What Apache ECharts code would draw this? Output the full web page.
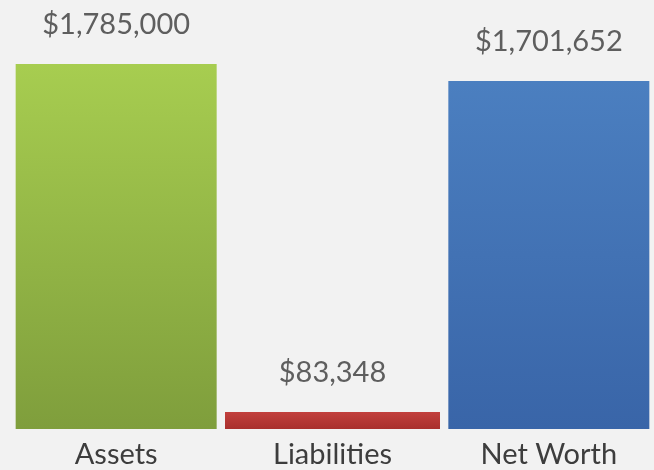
<!DOCTYPE html>
<html>
<head>
<meta charset="utf-8">
<script src="https://cdn.jsdelivr.net/npm/echarts@6/dist/echarts.min.js"></script>
<style>
html,body{margin:0;padding:0;background:#f2f2f2;}
#chart{width:654px;height:470px;}
</style>
</head>
<body>
<div id="chart"></div>
<script>
var categories = ['Assets', 'Liabilities', 'Net Worth'];
var values = [1785000, 83348, 1701652];
var topColors = ['#a7cd50', '#c2403d', '#4b7fc0'];
var bottomColors = ['#7f9e3c', '#a9302d', '#3965a8'];

function fmt(v) {
  return '$' + v.toString().replace(/\B(?=(\d{3})+(?!\d))/g, ',');
}

function item(i) {
  return {
    value: values[i],
    itemStyle: {
      color: {
        type: 'linear', x: 0, y: 0, x2: 0, y2: 1,
        colorStops: [
          { offset: 0, color: topColors[i] },
          { offset: 1, color: bottomColors[i] }
        ]
      }
    }
  };
}

var wideData = categories.map(function (c, i) { return i === 1 ? '-' : item(i); });
var narrowData = categories.map(function (c, i) { return i === 1 ? item(i) : '-'; });

var labelCfg = {
  show: true,
  position: 'top',
  distance: 25,
  fontFamily: 'Lato',
  fontSize: 29,
  lineHeight: 29,
  color: '#5e5e5e',
  formatter: function (p) { return fmt(p.value); }
};

var chart = echarts.init(document.getElementById('chart'));
chart.setOption({
  backgroundColor: '#f2f2f2',
  animation: false,
  grid: { left: 8, width: 649, top: 64, bottom: 41, outerBoundsMode: 'none', containLabel: false },
  xAxis: [
    {
      type: 'category',
      data: categories,
      axisLine: { show: false },
      axisTick: { show: false },
      axisLabel: { fontFamily: 'Lato', fontSize: 29, lineHeight: 29, color: '#3d3d3d', margin: 11 }
    },
    {
      type: 'category',
      data: categories,
      show: false
    }
  ],
  yAxis: { type: 'value', min: 0, max: 1785000, show: false },
  series: [
    {
      type: 'bar',
      xAxisIndex: 0,
      barWidth: 201,
      data: wideData,
      label: labelCfg
    },
    {
      type: 'bar',
      xAxisIndex: 1,
      barWidth: 215,
      data: narrowData,
      label: labelCfg
    }
  ]
});
</script>
</body>
</html>
